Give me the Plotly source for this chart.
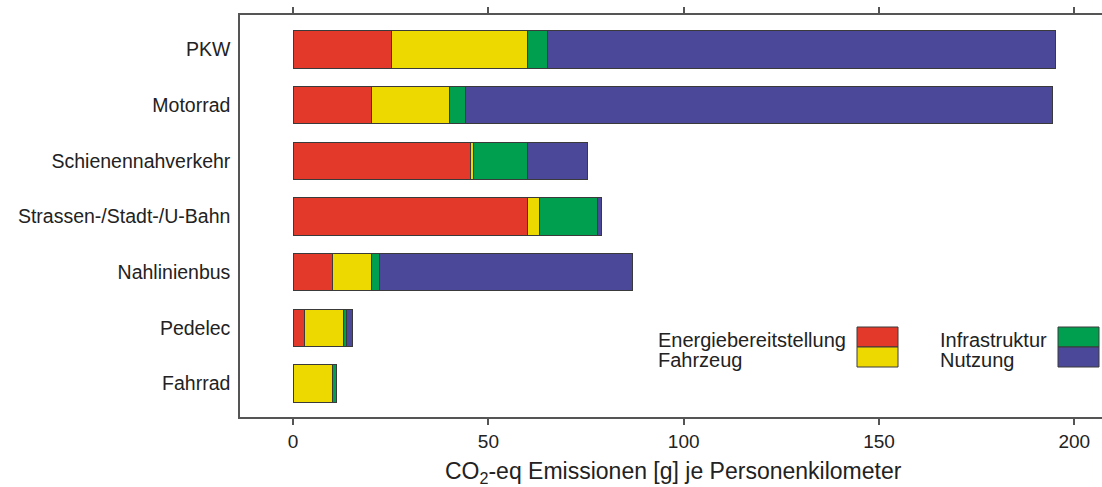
import plotly.graph_objects as go

categories = ["PKW", "Motorrad", "Schienennahverkehr", "Strassen-/Stadt-/U-Bahn",
              "Nahlinienbus", "Pedelec", "Fahrrad"]
energie = [25.3, 20.0, 45.3, 60.1, 10.1, 2.8, 0.0]
fahrzeug = [34.8, 20.1, 0.8, 2.9, 9.9, 10.1, 10.0]
infrastruktur = [5.1, 4.1, 14.0, 15.0, 2.0, 0.8, 1.1]
nutzung = [129.9, 150.2, 15.2, 1.0, 64.8, 1.4, 0.0]

series_names = ["Energiebereitstellung", "Fahrzeug", "Infrastruktur", "Nutzung"]
series_values = [energie, fahrzeug, infrastruktur, nutzung]
colors = ["#E2392B", "#EDD900", "#009F50", "#4B4899"]

x_ticks = [0, 50, 100, 150, 200]
x_title = "CO<sub>2</sub>-eq Emissionen [g] je Personenkilometer"

FONT = "Liberation Sans, Arial, sans-serif"
W, H = 1102, 487
L, T, R, B = 240, 15, 0, 70

fig = go.Figure()
for name, vals, col in zip(series_names, series_values, colors):
    fig.add_trace(go.Bar(
        y=categories, x=vals, name=name, orientation="h",
        marker=dict(color=col, line=dict(color="#3a3a3a", width=1)),
        width=0.67, showlegend=False,
    ))

pw, ph = W - L - R, H - T - B
def px(xp):
    return (xp - L) / pw
def py(yp):
    return 1 - (yp - T) / ph

# manual legend (text left of swatch, two columns)
for names, cols, text_left, sw_left in [(series_names[0:2], colors[0:2], 658, 857),
                                        (series_names[2:4], colors[2:4], 940, 1058)]:
    for i, (nm, c) in enumerate(zip(names, cols)):
        y0 = 327 + 20 * i
        fig.add_shape(type="rect", xref="paper", yref="paper",
                      x0=px(sw_left), x1=px(sw_left + 41), y0=py(y0 + 20), y1=py(y0),
                      fillcolor=c, line=dict(color="#3a3a3a", width=1))
        fig.add_annotation(xref="paper", yref="paper", x=px(text_left), y=py(339.5 + 20 * i),
                           text=nm, showarrow=False, xanchor="left", yanchor="middle",
                           xshift=-2, font=dict(family=FONT, size=20, color="#222"))

fig.add_annotation(xref="paper", yref="paper", x=px(673), y=py(472.5), text=x_title,
                   showarrow=False, xanchor="center", yanchor="middle",
                   font=dict(family=FONT, size=23, color="#222"))

fig.update_layout(
    width=W, height=H,
    margin=dict(l=L, r=R, t=T, b=B),
    barmode="stack",
    plot_bgcolor="white", paper_bgcolor="white",
    font=dict(family=FONT, color="#222"),
    xaxis=dict(
        range=[-13.6, 207.1], tickvals=x_ticks, ticks="outside", ticklen=6,
        tickwidth=1.5, tickcolor="#555", showline=True, linecolor="#555", linewidth=1.5,
        mirror="ticks", showgrid=False, zeroline=False, automargin=False,
        tickfont=dict(family=FONT, size=19, color="#222"),
    ),
    yaxis=dict(
        categoryorder="array", categoryarray=categories[::-1],
        range=[-0.6, 6.62], showline=True, linecolor="#555", linewidth=1.5,
        ticks="", showgrid=False, zeroline=False, ticklabelstandoff=4, automargin=False,
        tickfont=dict(family=FONT, size=19.5, color="#222"),
    ),
)

fig.write_html("out.html", config={"displayModeBar": False},
               post_script="document.body.style.margin='0';document.body.style.overflow='hidden';")
